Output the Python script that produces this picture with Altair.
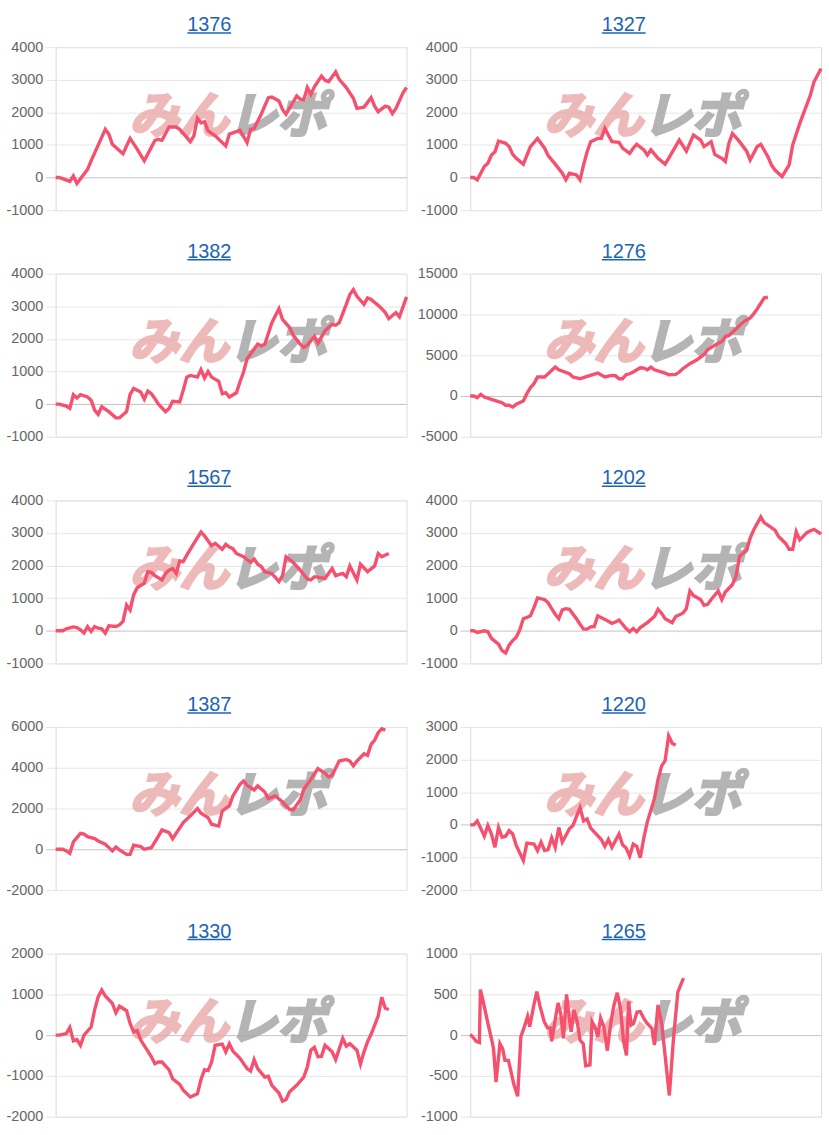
import altair as alt
import pandas as pd

# ---------------- data ----------------
TITLES = ["1376", "1327", "1382", "1276", "1567", "1202", "1387", "1220", "1330", "1265"]
Y_MIN = [-1000, -1000, -1000, -5000, -1000, -1000, -2000, -2000, -2000, -1000]
Y_MAX = [4000, 4000, 4000, 15000, 4000, 4000, 6000, 3000, 2000, 1000]
Y_STEP = [1000, 1000, 1000, 5000, 1000, 1000, 2000, 1000, 1000, 500]

DAYS_1376 = [0, 1, 4, 5, 6, 9, 10, 14, 15, 16, 19, 21, 23, 25, 28, 29, 30, 32, 34, 35, 38, 39, 40, 41, 42, 43,
             45, 48, 49, 51, 52, 54, 55, 56, 58, 60, 61, 63, 64, 65, 68, 69, 70, 71, 72, 73, 75, 76, 77, 79, 80,
             82, 84, 85, 87, 89, 90, 91, 93, 94, 95, 96, 98, 99]
VAL_1376 = [0, 0, -120, 50, -180, 250, 510, 1480, 1330, 1020, 730, 1200, 870, 510, 1140, 1170, 1140, 1550, 1550,
            1480, 1100, 1280, 1820, 1680, 1710, 1430, 1280, 970, 1330, 1410, 1450, 1070, 1480, 1510, 1940, 2450,
            2470, 2350, 2090, 1940, 2500, 2400, 2380, 2760, 2550, 2780, 3110, 2980, 2940, 3240, 3010, 2760, 2430,
            2120, 2160, 2450, 2190, 2020, 2190, 2160, 1960, 2120, 2600, 2760]

DAYS_1327 = [0, 1, 2, 4, 5, 6, 7, 8, 10, 11, 12, 13, 15, 17, 19, 21, 22, 24, 26, 27, 28, 30, 31, 32, 33, 34, 36,
             37, 38, 39, 40, 42, 43, 45, 46, 47, 49, 50, 51, 53, 55, 56, 59, 61, 63, 65, 66, 68, 69, 71, 72, 73,
             74, 76, 78, 79, 81, 82, 84, 85, 86, 88, 90, 91, 93, 96, 97, 99]
VAL_1327 = [0, 0, -70, 340, 440, 690, 790, 1120, 1050, 950, 710, 590, 410, 950, 1200, 900, 670, 410, 130, -70,
            130, 80, -70, 390, 790, 1100, 1200, 1200, 1510, 1300, 1100, 1080, 900, 740, 900, 1020, 850, 690, 850,
            590, 410, 590, 1150, 810, 1300, 1150, 950, 1100, 710, 590, 490, 1050, 1350, 1100, 810, 540, 950, 1020,
            640, 390, 230, 30, 390, 1000, 1660, 2530, 2930, 3340]

DAYS_1382 = [0, 1, 3, 4, 5, 6, 7, 9, 10, 11, 12, 13, 15, 17, 18, 20, 21, 22, 24, 25, 26, 27, 28, 29, 31, 32, 33,
             35, 36, 37, 38, 40, 41, 42, 43, 44, 46, 47, 48, 49, 51, 52, 53, 54, 55, 57, 58, 59, 61, 63, 64, 66,
             67, 69, 70, 71, 73, 74, 76, 77, 78, 79, 80, 82, 83, 84, 85, 87, 88, 89, 91, 92, 93, 94, 96, 97, 99]
VAL_1382 = [0, 0, -60, -130, 290, 190, 290, 220, 120, -180, -310, -80, -230, -420, -420, -230, 300, 480, 370, 150,
            400, 320, 170, 0, -230, -130, 90, 70, 430, 830, 880, 830, 1060, 800, 1000, 830, 700, 320, 350, 220,
            350, 680, 980, 1390, 1540, 1840, 1790, 1840, 2500, 2930, 2600, 2350, 2120, 1840, 1740, 1810, 2080,
            1870, 2250, 2350, 2450, 2420, 2500, 3060, 3360, 3510, 3310, 3060, 3260, 3210, 3030, 2930, 2810, 2620,
            2810, 2680, 3290]

DAYS_1276 = [0, 1, 2, 3, 4, 6, 8, 9, 10, 11, 12, 13, 15, 16, 17, 18, 19, 21, 22, 24, 25, 28, 29, 31, 33, 36, 38,
             40, 41, 42, 43, 44, 45, 46, 48, 49, 50, 51, 52, 55, 56, 58, 59, 60, 62, 64, 66, 67, 69, 71, 72, 73,
             74, 76, 77, 79, 80, 81, 82, 83, 84]
VAL_1276 = [0, 0, -200, 200, -120, -410, -690, -820, -1140, -1140, -1350, -1020, -610, 290, 1020, 1510, 2330,
            2330, 2730, 3550, 3220, 2730, 2330, 2120, 2410, 2820, 2330, 2530, 2490, 2120, 2120, 2610, 2730, 2940,
            3470, 3430, 3220, 3550, 3220, 2820, 2610, 2650, 2940, 3350, 3960, 4450, 5100, 5670, 6240, 6690, 7300,
            7430, 7830, 8650, 9060, 9590, 10080, 10690, 11380, 12040, 12120]

DAYS_1567 = [0, 2, 3, 5, 6, 7, 8, 9, 10, 11, 12, 13, 14, 15, 17, 18, 19, 20, 21, 22, 23, 25, 26, 27, 28, 30, 31,
             32, 33, 34, 35, 36, 37, 39, 41, 42, 44, 45, 47, 48, 49, 50, 51, 53, 55, 56, 57, 58, 59, 61, 63, 64,
             65, 67, 69, 71, 72, 73, 76, 78, 79, 81, 82, 83, 85, 86, 88, 90, 91, 92, 94]
VAL_1567 = [0, 0, 60, 120, 100, 30, -70, 130, -20, 130, 80, 60, -70, 150, 130, 180, 290, 790, 640, 1100, 1320,
            1460, 1810, 1790, 1690, 1560, 1760, 1860, 1910, 1760, 2140, 2120, 2320, 2680, 3030, 2910, 2610, 2680,
            2500, 2650, 2570, 2520, 2370, 2270, 2100, 2200, 2040, 1970, 1810, 1760, 1510, 1690, 2270, 2100, 1860,
            1590, 1560, 1660, 1610, 1910, 1690, 1760, 1660, 1990, 1560, 2040, 1810, 1990, 2370, 2270, 2370]

DAYS_1202 = [0, 1, 2, 4, 5, 6, 8, 9, 10, 11, 12, 13, 14, 15, 16, 17, 18, 19, 21, 22, 23, 24, 25, 26, 27, 28, 30,
             31, 32, 33, 34, 35, 36, 38, 40, 41, 42, 44, 45, 46, 47, 48, 50, 52, 53, 54, 55, 57, 58, 60, 61, 62,
             63, 65, 66, 67, 68, 70, 71, 72, 74, 75, 76, 78, 79, 80, 82, 83, 84, 86, 87, 89, 90, 91, 92, 93, 95,
             96, 97, 99]
VAL_1202 = [0, 0, -50, 0, -30, -230, -410, -610, -680, -440, -300, -200, 30, 370, 410, 460, 710, 1010, 960, 860,
            680, 510, 370, 640, 680, 660, 370, 200, 50, 50, 120, 130, 460, 350, 230, 270, 330, 70, -30, 70, -30,
            100, 250, 440, 660, 540, 370, 250, 440, 540, 680, 1220, 1080, 960, 780, 810, 960, 1220, 960, 1190,
            1420, 1670, 2280, 2480, 2840, 3090, 3490, 3310, 3240, 3090, 2890, 2680, 2500, 2500, 3040, 2790, 3010,
            3070, 3110, 2970]

DAYS_1387 = [0, 2, 3, 4, 5, 7, 8, 9, 11, 12, 14, 15, 16, 17, 18, 20, 21, 22, 24, 25, 27, 29, 30, 32, 33, 36, 38,
             40, 41, 43, 44, 46, 47, 49, 50, 52, 53, 54, 56, 57, 59, 60, 62, 64, 66, 67, 69, 70, 72, 74, 76, 77,
             78, 80, 82, 83, 84, 85, 87, 88, 89, 90, 91, 92, 93]
VAL_1387 = [0, 0, -80, -200, 360, 780, 740, 620, 520, 410, 250, 80, -80, 110, -30, -250, -250, 200, 130, 0, 80,
            650, 950, 820, 520, 1310, 1640, 2000, 1770, 1550, 1230, 1140, 1880, 2130, 2620, 3190, 3350, 3140,
            2910, 3110, 2810, 2490, 2620, 2320, 1960, 1930, 2420, 2940, 3430, 3960, 3730, 3560, 3630, 4330, 4410,
            4330, 4090, 4330, 4690, 4610, 5150, 5360, 5720, 5920, 5850]

DAYS_1220 = [0, 1, 2, 4, 5, 6, 7, 8, 9, 10, 11, 12, 13, 15, 16, 18, 19, 20, 21, 22, 23, 24, 25, 26, 28, 29, 31,
             32, 33, 34, 37, 38, 39, 40, 42, 43, 44, 45, 46, 47, 48, 49, 50, 52, 53, 54, 55, 56, 57, 58]
VAL_1220 = [0, 0, 120, -350, -20, -280, -690, -80, -380, -350, -180, -280, -630, -1090, -560, -590, -790, -530,
            -790, -760, -400, -690, -80, -530, -120, -20, 530, 120, 180, -100, -450, -660, -450, -690, -280, -610,
            -710, -960, -590, -660, -1010, -400, 100, 810, 1390, 1800, 1970, 2730, 2500, 2440]

DAYS_1330 = [0, 1, 3, 4, 5, 6, 7, 8, 10, 11, 12, 13, 14, 16, 17, 18, 20, 21, 22, 23, 24, 26, 27, 28, 29, 30, 32,
             33, 35, 36, 38, 40, 41, 42, 43, 44, 45, 47, 48, 49, 50, 52, 54, 55, 56, 57, 59, 60, 61, 63, 64, 65,
             66, 68, 70, 71, 72, 73, 74, 75, 76, 78, 79, 81, 82, 83, 85, 86, 87, 88, 89, 91, 92, 93, 94]
VAL_1330 = [0, 0, 40, 190, -140, -110, -250, 0, 200, 620, 940, 1110, 960, 780, 550, 710, 600, 290, 80, 110, -120,
            -390, -530, -700, -660, -660, -850, -1070, -1210, -1350, -1520, -1440, -1090, -850, -870, -660, -250,
            -220, -410, -210, -390, -570, -820, -880, -600, -820, -1030, -1010, -1230, -1420, -1620, -1580, -1390,
            -1230, -1030, -780, -370, -300, -530, -520, -250, -410, -600, -80, -270, -210, -370, -710, -410, -160,
            20, 470, 930, 660, 630]

DAYS_1265 = [0, 0.7, 1.7, 2.6, 2.9, 4.0, 5.1, 6.1, 6.6, 7.3, 8.4, 9.2, 9.8, 10.8, 11.5, 12.3, 13.4, 14.3, 15.3,
             16.2, 16.8, 17.9, 18.8, 19.7, 20.9, 21.8, 22.6, 23.0, 23.9, 24.8, 25.6, 26.3, 27.2, 27.9, 28.5, 29.3,
             30.2, 31.0, 31.9, 32.6, 33.8, 34.4, 35.4, 36.0, 36.8, 37.7, 38.7, 39.6, 40.5, 41.5, 42.4, 43.3, 44.1,
             44.7, 45.4, 46.1, 47.1, 48.0, 49.0, 49.9, 50.5, 51.3, 52.0, 53.0, 54.1, 56.2, 57.4, 58.6, 60.2]
VAL_1265 = [10, -20, -75, -90, 560, 350, 125, -60, -170, -575, -105, -170, -310, -310, -440, -600, -750, -20, 105,
            230, 105, 355, 535, 355, 165, 90, 90, -75, 165, 395, 250, -40, 500, 230, 40, 310, 165, -60, -105, -375,
            -365, 165, 80, -20, 210, 105, -190, 125, 355, 520, 330, -80, -250, 415, 125, 145, 285, 290, 205, 145,
            120, 80, -120, 370, 120, -740, -20, 530, 700]

SERIES_DAYS = [DAYS_1376, DAYS_1327, DAYS_1382, DAYS_1276, DAYS_1567, DAYS_1202, DAYS_1387, DAYS_1220,
               DAYS_1330, DAYS_1265]
SERIES_VALS = [VAL_1376, VAL_1327, VAL_1382, VAL_1276, VAL_1567, VAL_1202, VAL_1387, VAL_1220, VAL_1330,
               VAL_1265]
X_SLOTS = [0, 99]

# ---------------- style ----------------
LINE_COLOR = "#f5516f"
TITLE_COLOR = "#1a64b8"
GRID_COLOR = "#e6e6e6"
ZERO_COLOR = "#c4c4c4"
LABEL_FONT = "Liberation Sans"
WM_FONT = "Noto Sans CJK JP"
WM_PINK = "#eaa8a8"
WM_GRAY = "#a8a8a8"
PLOT_W, PLOT_H = 353, 164

one = pd.DataFrame({"k": [0]})


def panel(i):
    df = pd.DataFrame({"day": SERIES_DAYS[i], "value": SERIES_VALS[i]})
    ticks = list(range(Y_MIN[i], Y_MAX[i] + 1, Y_STEP[i]))
    yscale = alt.Scale(domain=[Y_MIN[i], Y_MAX[i]], nice=False, zero=False)
    zero_test = "datum.value === 0"
    yaxis = alt.Axis(values=ticks, title=None, labelExpr="'' + datum.value", grid=True,
                     gridColor=alt.condition(zero_test, alt.value(ZERO_COLOR), alt.value(GRID_COLOR)),
                     gridWidth=1,
                     tickColor=alt.condition(zero_test, alt.value(ZERO_COLOR), alt.value(GRID_COLOR)),
                     tickSize=10, labelPadding=3, domainColor=GRID_COLOR, domainWidth=1,
                     labelOverlap=False, labelFlush=False, labelBound=False,
                     labelFont=LABEL_FONT, labelFontSize=14.5, labelColor="#666666")
    line = alt.Chart(df).mark_line(color=LINE_COLOR, strokeWidth=3.4).encode(
        x=alt.X("day:Q", scale=alt.Scale(domain=X_SLOTS, nice=False, zero=False), axis=None),
        y=alt.Y("value:Q", scale=yscale, axis=yaxis),
    )
    wm1 = alt.Chart(one).mark_text(text="みん", font=WM_FONT, fontSize=50, fontWeight="bold",
                                   fontStyle="italic", color=WM_PINK, stroke=WM_PINK, strokeWidth=2.5,
                                   opacity=0.8, align="right", baseline="middle").encode(
        x=alt.value(174), y=alt.value(71))
    wm2 = alt.Chart(one).mark_text(text="レポ", font=WM_FONT, fontSize=50, fontWeight="bold",
                                   fontStyle="italic", color=WM_GRAY, stroke=WM_GRAY, strokeWidth=2.5,
                                   opacity=0.85, align="left", baseline="middle").encode(
        x=alt.value(173), y=alt.value(71))
    title = alt.Chart(one).mark_text(text=TITLES[i], font=LABEL_FONT, fontSize=20, color=TITLE_COLOR,
                                     align="center", baseline="alphabetic").encode(
        x=alt.value(154.5), y=alt.value(-16))
    underline = alt.Chart(one).mark_rule(color=TITLE_COLOR, strokeWidth=1.5).encode(
        x=alt.value(132.5), x2=alt.value(176.5), y=alt.value(-14.2))
    return alt.layer(wm1, wm2, line, title, underline).properties(width=PLOT_W, height=PLOT_H)


chart = alt.concat(*[panel(i) for i in range(len(TITLES))], columns=2, spacing=64, bounds="flush").properties(
    padding={"left": 5, "top": 11, "right": 0, "bottom": 0}
).configure_view(stroke=None).configure(background="white")

chart.save("out.html", embed_options={"renderer": "svg", "actions": False})
